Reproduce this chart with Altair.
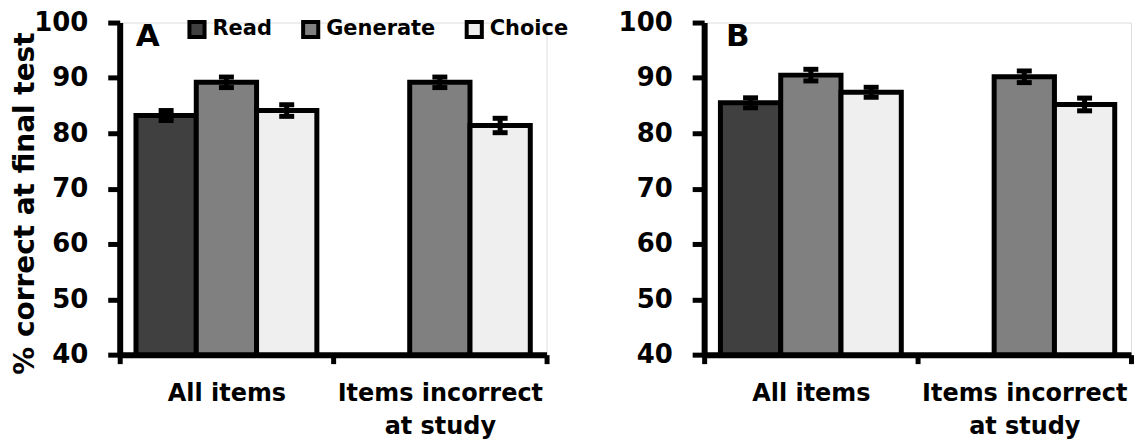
import altair as alt
import pandas as pd

groups = ["All items", "Items incorrect at study"]
conditions = ["Read", "Generate", "Choice"]
fills = ["#404040", "#808080", "#efefef"]

bar_group = ["All items", "All items", "All items",
             "Items incorrect at study", "Items incorrect at study"]
bar_cond = ["Read", "Generate", "Choice", "Generate", "Choice"]

a_mean = [83.2, 89.2, 84.1, 89.2, 81.4]
a_se = [0.9, 0.95, 1.05, 0.95, 1.3]

b_mean = [85.5, 90.5, 87.4, 90.2, 85.2]
b_se = [0.9, 1.05, 0.9, 1.05, 1.15]

y_ticks = [40, 50, 60, 70, 80, 90, 100]

FONT = "DejaVu Sans"


def make_df(means, ses):
    return pd.DataFrame({
        "group": bar_group,
        "cond": bar_cond,
        "mean": means,
        "lo": [m - s for m, s in zip(means, ses)],
        "hi": [m + s for m, s in zip(means, ses)],
    })


def panel(df, letter, width, show_title, show_legend, letter_x):
    x_enc = alt.X(
        "group:N", sort=groups,
        scale=alt.Scale(domain=groups, paddingInner=0, paddingOuter=0),
        axis=alt.Axis(
            title=None, labelAngle=0, tickBand="extent", tickSize=9,
            tickWidth=5, tickColor="black", domainWidth=6, domainColor="black",
            labelFont=FONT, labelFontSize=24, labelFontWeight="bold",
            labelColor="black", labelPadding=18, labelLineHeight=33,
            labelLimit=0,
            labelExpr="datum.label == 'Items incorrect at study' ? ['Items incorrect', 'at study'] : datum.label",
        ),
    )
    xo_enc = alt.XOffset(
        "cond:N", sort=conditions,
        scale=alt.Scale(domain=conditions, paddingInner=0, paddingOuter=0.27),
    )
    y_scale = alt.Scale(domain=[40, 100], nice=False, zero=False)
    y_axis = alt.Axis(
        values=y_ticks, grid=False, tickSize=12, tickWidth=5, tickColor="black",
        domainWidth=6, domainColor="black",
        labelFont=FONT, labelFontSize=26, labelFontWeight="bold",
        labelColor="black", labelPadding=20,
        title="% correct at final test" if show_title else None,
        titleFont=FONT, titleFontSize=28, titleFontWeight="bold",
        titleColor="black", titlePadding=-6, titleY=181,
    )
    if show_legend:
        legend = alt.Legend(
            title=None, orient="none", direction="horizontal",
            legendX=67, legendY=-4, padding=0,
            symbolType="square", symbolSize=230, symbolStrokeWidth=4,
            symbolStrokeColor="black", symbolOpacity=1,
            labelFont=FONT, labelFontSize=21,
            labelFontWeight="bold", labelColor="black", labelOffset=5,
            columnPadding=22,
        )
    else:
        legend = None

    base = alt.Chart(df).encode(x=x_enc, xOffset=xo_enc)
    bars = base.mark_bar(stroke="black", strokeWidth=5, opacity=1).encode(
        y=alt.Y("mean:Q", scale=y_scale, axis=y_axis),
        y2=alt.datum(40),
        color=alt.Color(
            "cond:N", sort=conditions,
            scale=alt.Scale(domain=conditions, range=fills),
            legend=legend,
        ),
    )
    stems = base.mark_rule(color="black", strokeWidth=5, opacity=1).encode(
        y=alt.Y("lo:Q", scale=y_scale), y2="hi:Q"
    )
    cap_lo = base.mark_tick(color="black", thickness=5, size=15, opacity=1,
                            orient="horizontal").encode(
        y=alt.Y("lo:Q", scale=y_scale)
    )
    cap_hi = base.mark_tick(color="black", thickness=5, size=15, opacity=1,
                            orient="horizontal").encode(
        y=alt.Y("hi:Q", scale=y_scale)
    )
    lab = alt.Chart(pd.DataFrame({"t": [letter]})).mark_text(
        font=FONT, fontSize=31, fontWeight="bold", color="black",
        align="left", baseline="alphabetic",
    ).encode(text="t:N", x=alt.value(letter_x), y=alt.value(24))

    return alt.layer(bars, stems, cap_lo, cap_hi, lab).properties(
        width=width, height=333
    )


panel_a = panel(make_df(a_mean, a_se), "A", 428, True, True, 16)
panel_b = panel(make_df(b_mean, b_se), "B", 428, False, False, 22)

chart = alt.hconcat(panel_a, panel_b, spacing=68).properties(
    padding={"left": 3, "top": 0, "right": 0, "bottom": 0}
).configure_view(stroke=None).configure(background="white")

chart.save("out.html", embed_options={"renderer": "svg", "actions": False})
